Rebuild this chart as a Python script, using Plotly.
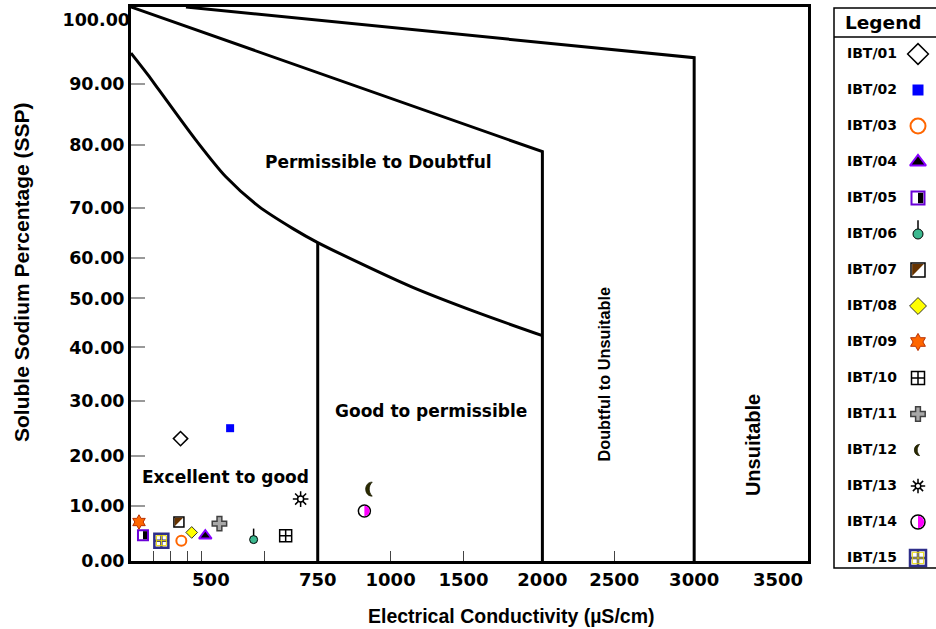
import numpy as np
import plotly.graph_objects as go

# ---------------- data ----------------
SAMPLES = ["IBT/01", "IBT/02", "IBT/03", "IBT/04", "IBT/05", "IBT/06", "IBT/07", "IBT/08",
           "IBT/09", "IBT/10", "IBT/11", "IBT/12", "IBT/13", "IBT/14", "IBT/15"]
EC_VALUES = [310, 545, 315, 465, 75, 600, 300, 380, 50, 675, 520, 930, 710, 910, 190]
SSP_VALUES = [23.2, 25.1, 3.7, 4.6, 4.7, 3.9, 7.1, 5.2, 7.1, 4.6, 6.8, 13.4, 11.4, 9.1, 3.7]

X_TICK_VALUES = [500, 750, 1000, 1500, 2000, 2500, 3000, 3500]
X_TICK_LABELS = ["500", "750", "1000", "1500", "2000", "2500", "3000", "3500"]
X_MINOR_TICK_VALUES = [140, 245, 355, 440, 625, 1000, 1500, 2500]
Y_TICK_VALUES = [0, 10, 20, 30, 40, 50, 60, 70, 80, 90, 100]
Y_TICK_LABELS = ["0.00", "10.00", "20.00", "30.00", "40.00", "50.00",
                 "60.00", "70.00", "80.00", "90.00", "100.00"]

# class boundaries of the diagram (EC, SSP)
BOUNDARY_A_EC = [0, 2000, 2000]
BOUNDARY_A_SSP = [100, 78.9, 0]
BOUNDARY_B_EC = [344, 3000, 3000]
BOUNDARY_B_SSP = [100, 93.4, 0]
BOUNDARY_CURVE_EC = [0, 105, 175, 405, 535, 612, 692, 750, 1140, 1590, 2000]
BOUNDARY_CURVE_SSP = [94.0, 91.2, 89.0, 80.8, 74.9, 70.2, 65.8, 63.0, 52.9, 47.1, 42.4]
BOUNDARY_750_EC = [750, 750]
BOUNDARY_750_SSP = [63.0, 0]

ZONE_NAMES = ["Permissible to Doubtful", "Good to permissible", "Excellent to good",
              "Doubtful to Unsuitable", "Unsuitable"]
ZONE_EC = [960, 1275, 535, 2430, 3350]
ZONE_SSP = [77.3, 28.2, 15.8, 35.0, 22.0]

# ---------------- non-linear scales of the diagram ----------------
EC_SCALE_VALUE = [0, 500, 750, 1000, 1500, 2000, 2500, 3000, 3500, 3676]
EC_SCALE_UNIT = [0, 80, 187, 260, 333, 412, 484, 564, 648, 678]
SSP_SCALE_VALUE = [0, 10, 20, 30, 40, 50, 60, 70, 80, 90, 100]
SSP_SCALE_UNIT = [0, 55, 105, 160, 214, 263, 304, 354, 417, 478, 555]


def ex(v):
    return np.interp(np.asarray(v, dtype=float), EC_SCALE_VALUE, EC_SCALE_UNIT)


def sy(v):
    return np.interp(np.asarray(v, dtype=float), SSP_SCALE_VALUE, SSP_SCALE_UNIT)


# ---------------- page geometry ----------------
W, H = 936, 629
ML, MR, MT, MB = 131, 0, 7, 59
PW, PH = W - ML - MR, H - MT - MB


def paper_x(px):
    return (px - ML) / PW


def paper_y(py):
    return (H - MB - py) / PH


# ---------------- marker styles ----------------
STYLE = [
    dict(symbol="diamond-open", color="black", lc="black", lw=1.5, size=11, lsize=16),
    dict(symbol="square", color="#0000FF", lc="#0000FF", lw=0, size=8, lsize=11),
    dict(symbol="circle-open", color="#FF6600", lc="#FF6600", lw=2, size=10, lsize=15),
    dict(symbol="triangle-up", color="#000000", lc="#8800FF", lw=2, size=11, lsize=14),
    dict(symbol="square", color="white", lc="#6A00D8", lw=2, size=10, lsize=13, glyph="half_square"),
    dict(symbol="circle", color="#3CB88F", lc="black", lw=1, size=8, lsize=10, glyph="stem"),
    dict(symbol="square", color="white", lc="black", lw=1.5, size=10, lsize=14, glyph="diag_square"),
    dict(symbol="diamond", color="#FFFF00", lc="#333333", lw=1, size=9, lsize=13),
    dict(symbol="hexagram", color="#FF6600", lc="#B83000", lw=1, size=11, lsize=13),
    dict(symbol="square-cross-open", color="black", lc="black", lw=1.5, size=12, lsize=13),
    dict(symbol="cross", color="#A8A8A8", lc="#404040", lw=1.5, size=12, lsize=12),
    dict(symbol="circle", color="rgba(0,0,0,0)", lc="rgba(0,0,0,0)", lw=0, size=10, lsize=8, glyph="crescent"),
    dict(symbol="asterisk-open", color="black", lc="black", lw=1.5, size=13, lsize=12,
         over=dict(symbol="circle", color="white", lc="black", lw=1.5, size=6)),
    dict(symbol="circle", color="white", lc="black", lw=1.5, size=12, lsize=14, glyph="half_circle"),
    dict(symbol="square-cross-open", color="#2E2E8A", lc="#2E2E8A", lw=2.5, size=14, lsize=16,
         over=dict(symbol="square-cross-open", color="#E8D800", lc="#E8D800", lw=1, size=10)),
]


def path_from(pts, k, closed=True):
    s = "M" + " L".join(f"{x * k:.2f},{y * k:.2f}" for x, y in pts)
    return s + (" Z" if closed else "")


def glyph_shapes(kind, x, y, xref, yref, k):
    base = dict(type="path", xref=xref, yref=yref, xsizemode="pixel", ysizemode="pixel",
                xanchor=x, yanchor=y, layer="above")
    if kind == "half_square":
        return [dict(base, path=path_from([(0, -4), (4, -4), (4, 4), (0, 4)], k),
                     fillcolor="black", line=dict(width=0))]
    if kind == "diag_square":
        return [dict(base, path=path_from([(-4.2, 4.2), (4.2, 4.2), (-4.2, -4.2)], k),
                     fillcolor="#663300", line=dict(width=0))]
    if kind == "stem":
        return [dict(base, path=path_from([(0, 4), (0, 11)], k, closed=False),
                     line=dict(color="black", width=1.5))]
    if kind == "half_circle":
        r, c = 5.2 * k, 5.2 * 0.5523 * k
        p = (f"M0,{r:.2f} C{c:.2f},{r:.2f} {r:.2f},{c:.2f} {r:.2f},0 "
             f"C{r:.2f},{-c:.2f} {c:.2f},{-r:.2f} 0,{-r:.2f} Z")
        return [dict(base, path=p, fillcolor="#FF00FF", line=dict(width=0))]
    if kind == "crescent":
        pts = [(2, 7), (-2.5, 7), (-4.5, 3.5), (-4.5, 0), (-4.5, -3.5), (-2.5, -7), (2, -7),
               (0, -5), (-1, -2.5), (-1, 0), (-1, 2.5), (0, 5), (2, 7)]
        q = [f"{a * k:.2f},{b * k:.2f}" for a, b in pts]
        p = (f"M{q[0]} C{q[1]} {q[2]} {q[3]} C{q[4]} {q[5]} {q[6]} "
             f"C{q[7]} {q[8]} {q[9]} C{q[10]} {q[11]} {q[12]} Z")
        return [dict(base, path=p, fillcolor="#2B2B00", line=dict(color="#1A1A00", width=0.8))]
    return []


fig = go.Figure()
shapes = []

# ---------------- boundaries ----------------
for ec, ssp, shp in [(BOUNDARY_A_EC, BOUNDARY_A_SSP, "linear"),
                     (BOUNDARY_B_EC, BOUNDARY_B_SSP, "linear"),
                     (BOUNDARY_CURVE_EC, BOUNDARY_CURVE_SSP, "spline"),
                     (BOUNDARY_750_EC, BOUNDARY_750_SSP, "linear")]:
    fig.add_trace(go.Scatter(x=ex(ec), y=sy(ssp), mode="lines",
                             line=dict(color="black", width=3, shape=shp, smoothing=0.8),
                             hoverinfo="skip", showlegend=False))

# invisible anchor so that the overlaid SSP label axis is drawn
fig.add_trace(go.Scatter(x=ex([0]), y=sy([100]), mode="markers", yaxis="y3",
                         marker=dict(opacity=0), hoverinfo="skip", showlegend=False))


def add_marker(x, y, st, size, xaxis, yaxis, name):
    fig.add_trace(go.Scatter(
        x=[x], y=[y], mode="markers", name=name, showlegend=False,
        xaxis=xaxis, yaxis=yaxis, cliponaxis=False,
        marker=dict(symbol=st["symbol"], color=st["color"], size=size,
                    line=dict(color=st["lc"], width=st["lw"]))))


# ---------------- samples + custom legend ----------------
LEGEND_LABEL_COL, LEGEND_MARKER_COL = 0, 1
for i, name in enumerate(SAMPLES):
    st = STYLE[i]
    x, y = float(ex(EC_VALUES[i])), float(sy(SSP_VALUES[i]))
    row = i + 1
    add_marker(x, y, st, st["size"], "x", "y", name)
    add_marker(LEGEND_MARKER_COL, row, st, st["lsize"], "x2", "y2", name)
    k = st["lsize"] / st["size"]
    if "over" in st:
        add_marker(x, y, st["over"], st["over"]["size"], "x", "y", name)
        add_marker(LEGEND_MARKER_COL, row, st["over"], st["over"]["size"] * k, "x2", "y2", name)
    if "glyph" in st:
        shapes += glyph_shapes(st["glyph"], x, y, "x", "y", 1.0)
        shapes += glyph_shapes(st["glyph"], LEGEND_MARKER_COL, row, "x2", "y2", k)

fig.add_trace(go.Scatter(
    x=[LEGEND_LABEL_COL] * len(SAMPLES), y=list(range(1, len(SAMPLES) + 1)),
    mode="text", text=SAMPLES, textposition="middle center", xaxis="x2", yaxis="y2",
    textfont=dict(family="DejaVu Sans", size=14, color="black", weight="bold"),
    hoverinfo="skip", showlegend=False))

# legend box
shapes.append(dict(type="rect", xref="paper", yref="paper",
                   x0=paper_x(834), x1=paper_x(940), y0=paper_y(568), y1=paper_y(8),
                   line=dict(color="black", width=1.5), fillcolor="rgba(0,0,0,0)", layer="above"))
shapes.append(dict(type="line", xref="paper", yref="paper",
                   x0=paper_x(834), x1=paper_x(940), y0=paper_y(37), y1=paper_y(37),
                   line=dict(color="black", width=1.5)))

SANS = "Liberation Sans, Arial, sans-serif"
annotations = [
    dict(text="Legend", xref="paper", yref="paper", x=paper_x(883), y=paper_y(22),
         xanchor="center", yanchor="middle", showarrow=False,
         font=dict(family="DejaVu Sans", size=18.5, color="black", weight="bold")),
    dict(text="Soluble Sodium Percentage (SSP)", xref="paper", yref="paper",
         x=paper_x(21), y=paper_y(272), xanchor="center", yanchor="middle",
         textangle=-90, showarrow=False,
         font=dict(family=SANS, size=21, color="black", weight="bold")),
    dict(text="Electrical Conductivity (µS/cm)", xref="paper", yref="paper",
         x=paper_x(511), y=paper_y(616), xanchor="center", yanchor="middle", showarrow=False,
         font=dict(family=SANS, size=19.5, color="black", weight="bold")),
]
for i, z in enumerate(ZONE_NAMES):
    rotated = z in ("Doubtful to Unsuitable", "Unsuitable")
    if rotated:
        f = dict(family=SANS, size=16.3 if z == "Doubtful to Unsuitable" else 20,
                 color="black", weight="bold")
    else:
        f = dict(family="DejaVu Sans", size=17, color="black", weight="bold")
    annotations.append(dict(text=z, x=float(ex(ZONE_EC[i])), y=float(sy(ZONE_SSP[i])),
                            xref="x", yref="y", xanchor="center", yanchor="middle",
                            showarrow=False, textangle=-90 if rotated else 0, font=f))

YTICK_FONT = dict(family="DejaVu Sans", size=17.5, color="black", weight="bold")
fig.update_layout(
    width=W, height=H, margin=dict(l=ML, r=MR, t=MT, b=MB, autoexpand=False),
    paper_bgcolor="white", plot_bgcolor="white", showlegend=False,
    xaxis=dict(domain=[0, 677 / PW], range=[0, 678], showline=True, linewidth=3,
               linecolor="black", mirror=True, showgrid=False, zeroline=False,
               tickmode="array", tickvals=ex(X_TICK_VALUES), ticktext=X_TICK_LABELS,
               ticks="", tickfont=dict(family="DejaVu Sans", size=18, color="black", weight="bold"),
               minor=dict(tickmode="array", tickvals=ex(X_MINOR_TICK_VALUES), ticks="inside",
                          ticklen=10, tickwidth=1, tickcolor="#444444", showgrid=False),
               automargin=False, fixedrange=True),
    yaxis=dict(domain=[paper_y(561), 1], range=[0, 555], showline=True, linewidth=3,
               linecolor="black", mirror=True, showgrid=False, zeroline=False,
               tickmode="array", tickvals=sy(Y_TICK_VALUES[:-1]), ticktext=Y_TICK_LABELS[:-1],
               ticks="inside", ticklen=14, tickwidth=2, tickcolor="#999999",
               tickfont=YTICK_FONT, automargin=False, fixedrange=True),
    # the top label of the SSP axis sits a little below the frame in the reference
    yaxis3=dict(overlaying="y", anchor="x", side="left", range=[0, 555],
                showline=False, showgrid=False, zeroline=False, ticks="",
                tickmode="array", tickvals=sy(Y_TICK_VALUES[-1:]), ticktext=Y_TICK_LABELS[-1:],
                ticklabelshift=13, ticklabeloverflow="allow",
                tickfont=YTICK_FONT, automargin=False, fixedrange=True),
    xaxis2=dict(domain=[paper_x(834), 1], range=[-38 / 46, -38 / 46 + 102 / 46],
                visible=False, anchor="y2", fixedrange=True),
    yaxis2=dict(domain=[0, 1], range=[1 + (PH - 47) / 36, 1 - 47 / 36],
                visible=False, anchor="x2", fixedrange=True),
    shapes=shapes, annotations=annotations,
)

fig.write_html("out.html", config={"displayModeBar": False},
               post_script="document.body.style.margin='0px';")
